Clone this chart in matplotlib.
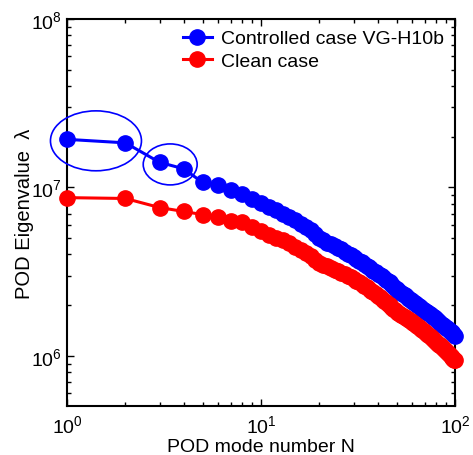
import matplotlib
matplotlib.use("Agg")
import matplotlib.pyplot as plt
from matplotlib.patches import Ellipse
import numpy as np

plt.rcParams["font.family"] = ["Liberation Sans", "DejaVu Sans"]

mode_n = list(range(1, 101))

# eigenvalues in units of 1e6
controlled = [
    19.3, 18.4, 14.1, 12.9, 10.7, 10.3, 9.6, 9.1, 8.5, 8.1,
    7.7, 7.3, 7.0, 6.7, 6.4, 6.1, 5.85, 5.6, 5.3, 5.0,
    4.85, 4.7, 4.6, 4.5, 4.4, 4.3, 4.15, 4.05, 3.95, 3.85,
    3.77, 3.68, 3.6, 3.5, 3.42, 3.35, 3.28, 3.2, 3.14, 3.08,
    3.02, 2.96, 2.9, 2.84, 2.79, 2.73, 2.66, 2.6, 2.54, 2.48,
    2.44, 2.40, 2.37, 2.33, 2.29, 2.26, 2.22, 2.19, 2.15, 2.12,
    2.09, 2.06, 2.03, 2.0, 1.97, 1.95, 1.92, 1.9, 1.87, 1.85,
    1.83, 1.81, 1.79, 1.77, 1.75, 1.73, 1.71, 1.69, 1.67, 1.65,
    1.63, 1.61, 1.59, 1.57, 1.55, 1.535, 1.52, 1.50, 1.485, 1.47,
    1.455, 1.44, 1.425, 1.41, 1.395, 1.38, 1.365, 1.35, 1.335, 1.32,
]
clean = [
    8.7, 8.6, 7.6, 7.2, 6.9, 6.7, 6.35, 6.2, 5.8, 5.5,
    5.25, 5.0, 4.85, 4.65, 4.45, 4.25, 4.1, 3.9, 3.7, 3.55,
    3.47, 3.4, 3.32, 3.25, 3.18, 3.12, 3.05, 2.98, 2.92, 2.85,
    2.79, 2.73, 2.67, 2.61, 2.55, 2.49, 2.44, 2.38, 2.33, 2.28,
    2.23, 2.18, 2.13, 2.09, 2.04, 2.0, 1.95, 1.91, 1.86, 1.82,
    1.795, 1.77, 1.745, 1.72, 1.70, 1.675, 1.65, 1.63, 1.605, 1.585,
    1.56, 1.54, 1.52, 1.50, 1.48, 1.46, 1.44, 1.42, 1.40, 1.38,
    1.362, 1.345, 1.328, 1.31, 1.294, 1.277, 1.26, 1.245, 1.229, 1.213,
    1.198, 1.183, 1.168, 1.153, 1.138, 1.124, 1.11, 1.095, 1.081, 1.068,
    1.054, 1.041, 1.027, 1.014, 1.001, 0.988, 0.976, 0.963, 0.951, 0.94,
]

fig = plt.figure(figsize=(4.73, 4.56), dpi=100)
ax = fig.add_axes([0.1416, 0.1081, 0.8203, 0.848])

ax.loglog(mode_n, np.array(controlled) * 1e6, "-o", color="blue", lw=2.2,
          ms=11, label="Controlled case VG-H10b", clip_on=False, zorder=3)
ax.loglog(mode_n, np.array(clean) * 1e6, "-o", color="red", lw=2.2,
          ms=11, label="Clean case", clip_on=False, zorder=3)

ax.set_xlim(1, 100)
ax.set_ylim(5.06e5, 1e8)
ax.set_xlabel("POD mode number N", fontsize=14)
ax.xaxis.set_label_coords(0.5, -0.083)
ax.set_ylabel("POD Eigenvalue  λ", fontsize=14.5, labelpad=-2)

ax.tick_params(which="both", direction="in", top=True, right=True, labelsize=14)
ax.tick_params(which="major", length=5, width=1)
ax.tick_params(which="minor", length=3, width=1)
ax.tick_params(axis="x", pad=6)
for sp in ax.spines.values():
    sp.set_linewidth(1.5)

# highlight the first mode pairs
for cx, cy, w, h in [(0.0747, 0.685, 0.2345, 0.155), (0.266, 0.624, 0.139, 0.106)]:
    ax.add_patch(Ellipse((cx, cy), w, h, transform=ax.transAxes, fill=False,
                         edgecolor="blue", lw=1.2, clip_on=False, zorder=4))

ax.legend(loc="upper right", frameon=False, fontsize=14, handlelength=1.45,
          handletextpad=0.5, borderaxespad=0.15, labelspacing=0.25)

fig.savefig("out.png", dpi=100)
